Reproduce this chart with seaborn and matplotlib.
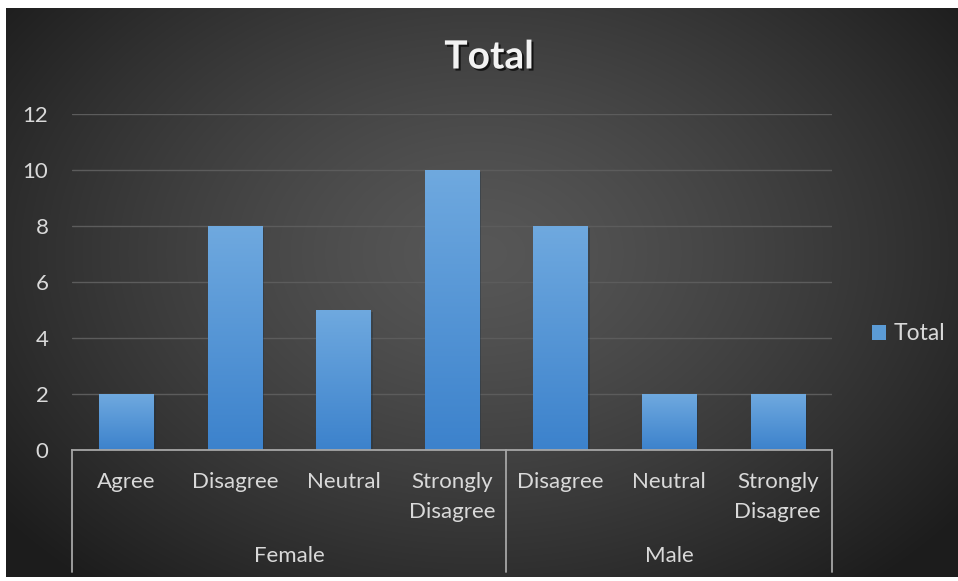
import numpy as np
import pandas as pd
import matplotlib
matplotlib.use("Agg")
import matplotlib.pyplot as plt
import matplotlib.patheffects as pe
from matplotlib.colors import LinearSegmentedColormap
from matplotlib.transforms import blended_transform_factory
from matplotlib.patches import Patch
import seaborn as sns

# ---- data ----
genders = ["Female", "Female", "Female", "Female", "Male", "Male", "Male"]
responses = ["Agree", "Disagree", "Neutral", "Strongly Disagree",
             "Disagree", "Neutral", "Strongly Disagree"]
totals = [2, 8, 5, 10, 8, 2, 2]
y_ticks = [0, 2, 4, 6, 8, 10, 12]
chart_title = "Total"
series_name = "Total"

df = pd.DataFrame({"gender": genders, "response": responses, "count": totals})
df["key"] = df["gender"] + " / " + df["response"]

sns.set_theme(style="dark")
plt.rcParams["font.family"] = ["Lato", "DejaVu Sans"]

W, H = 958, 581
fig = plt.figure(figsize=(W / 100, H / 100), dpi=100, facecolor="white")

# dark panel with radial shading
bg = fig.add_axes([6 / W, 4 / H, (W - 6) / W, (H - 4 - 8) / H])
bg.set_axis_off()
ph, pw = 569, 952
yy, xx = np.mgrid[0:ph, 0:pw]
r = np.sqrt(((xx - 474) / 600.0) ** 2 + ((yy - 245) / 430.0) ** 2)
r = np.clip(r, 0, 1) ** 1.3
c0, c1 = 0x57 / 255, 0x1d / 255
shade = c0 + (c1 - c0) * r
bg.imshow(np.dstack([shade, shade, shade]), aspect="auto",
          extent=[0, 1, 0, 1], interpolation="bilinear")
bg.set_xlim(0, 1)
bg.set_ylim(0, 1)

# plot area
ax = fig.add_axes([72 / W, (H - 450) / H, (832 - 72) / W, (450 - 114) / H])
ax.patch.set_alpha(0)

sns.barplot(data=df, x="key", y="count", order=list(df["key"]),
            width=0.5, color="#5b9bd5", ax=ax, zorder=3, saturation=1,
            linewidth=0, edgecolor="none")

ax.set_xlim(-0.5, len(df) - 0.5)
ax.set_ylim(y_ticks[0], y_ticks[-1])

# vertical gradient fill for each bar
bar_cmap = LinearSegmentedColormap.from_list("bar", ["#3c82cc", "#6fa9df"])
grad = np.linspace(0, 1, 256).reshape(-1, 1)
for p in ax.patches:
    x0, y0 = p.get_x(), p.get_y()
    w, h = p.get_width(), p.get_height()
    p.set_path_effects([pe.SimplePatchShadow(offset=(1.5, -1.5), alpha=0.35),
                        pe.Normal()])
    ax.imshow(grad, extent=[x0, x0 + w, y0, y0 + h], origin="lower",
              aspect="auto", cmap=bar_cmap, zorder=4, interpolation="bilinear")
ax.set_xlim(-0.5, len(df) - 0.5)
ax.set_ylim(y_ticks[0], y_ticks[-1])

ax.set_xlabel("")
ax.set_ylabel("")
ax.set_yticks(y_ticks)
ax.set_yticklabels([str(v) for v in y_ticks])
ax.set_xticks(range(len(df)))
ax.set_xticklabels([t.replace(" ", "\n") for t in responses], linespacing=1.6)
ax.tick_params(axis="y", length=0, pad=17, labelsize=16, colors="#d9d9d9")
ax.tick_params(axis="x", length=0, pad=16, labelsize=16, colors="#d9d9d9")
ax.grid(axis="y", color="#5c5c5c", linewidth=1, zorder=0)
ax.grid(axis="x", visible=False)
for s in ["top", "right", "left"]:
    ax.spines[s].set_visible(False)
ax.spines["bottom"].set_color("#a6a6a6")
ax.spines["bottom"].set_linewidth(1.3)
ax.spines["bottom"].set_zorder(5)

# second category level: gender groups
tr = blended_transform_factory(ax.transData, ax.transAxes)
groups = list(dict.fromkeys(genders))
bounds = [-0.5]
for g in groups:
    n = genders.count(g)
    start = bounds[-1]
    ax.text(start + n / 2, -0.315, g, transform=tr, ha="center", va="center",
            fontsize=16, color="#d9d9d9")
    bounds.append(start + n)
for b in bounds:
    ax.plot([b, b], [0, -0.363], transform=tr, color="#a6a6a6",
            linewidth=1.3, clip_on=False, zorder=5)

# title
fig.text(489 / W, 1 - 57 / H, chart_title, ha="center", va="center",
         fontsize=28, fontweight="bold", color="#f2f2f2",
         path_effects=[pe.withSimplePatchShadow(offset=(1.5, -1.5),
                                                shadow_rgbFace="black",
                                                alpha=0.7)])

# legend
fig.legend(handles=[Patch(facecolor="#5b9bd5", edgecolor="none", label=series_name)],
           loc="center left", bbox_to_anchor=(872 / W, 1 - 334 / H),
           frameon=False, fontsize=16.5, labelcolor="#d9d9d9",
           handlelength=0.6, handleheight=0.6, handletextpad=0.35,
           borderaxespad=0, borderpad=0)

fig.savefig("out.png", dpi=100, facecolor="white")
